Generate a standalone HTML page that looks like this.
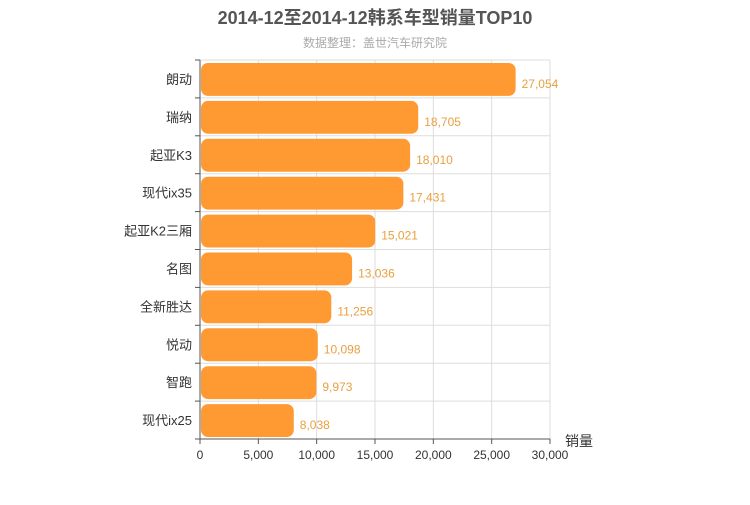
<!DOCTYPE html>
<html><head><meta charset="utf-8"><style>
body{margin:0;background:#fff;}
svg text{font-family:"Liberation Sans","Noto Sans CJK SC",sans-serif;}
</style></head><body>
<svg width="750" height="500" xmlns="http://www.w3.org/2000/svg" id="chart">
<text x="375" y="24" text-anchor="middle" font-size="18" font-weight="bold" fill="#555">2014-12至2014-12韩系车型销量TOP10</text>
<text x="375" y="47" text-anchor="middle" font-size="12" fill="#aaa">数据整理：盖世汽车研究院</text>
<g id="grid"></g><g id="bars"></g><g id="axes"></g>
<text x="565" y="446" font-size="14" fill="#333">销量</text>
</svg>
<script>
const categories=["朗动","瑞纳","起亚K3","现代ix35","起亚K2三厢","名图","全新胜达","悦动","智跑","现代ix25"];
const values=[27054,18705,18010,17431,15021,13036,11256,10098,9973,8038];
const ticks=[0,5000,10000,15000,20000,25000,30000];
const NS="http://www.w3.org/2000/svg";
const X0=200,X1=550,Y0=60,Y1=439,MAX=30000;
const xs=v=>X0+(v/MAX)*(X1-X0);
const rowH=(Y1-Y0)/categories.length;
const ys=i=>Y0+i*rowH;
function mk(t,a,p){const e=document.createElementNS(NS,t);for(const k in a)e.setAttribute(k,a[k]);p.appendChild(e);return e;}
const grid=document.getElementById('grid'),bars=document.getElementById('bars'),axes=document.getElementById('axes');
ticks.forEach(t=>{
 const l=mk('line',{x1:xs(t),x2:xs(t),y1:Y0,y2:Y1,stroke:'#ddd'},grid);
 
 
 const tk=mk('line',{x1:xs(t),x2:xs(t),y1:Y1,y2:Y1+5,stroke:'#555'},axes);
 
 
 const tx=mk('text',{x:xs(t),y:Y1+20,'text-anchor':'middle','font-size':12,fill:'#333'},axes);
 tx.textContent=t.toLocaleString('en-US');
 
 
});
for(let i=0;i<=categories.length;i++){
 const l=mk('line',{x1:X0,x2:X1,y1:ys(i),y2:ys(i),stroke:'#ddd'},grid);
 
 
 const tk=mk('line',{x1:X0-5,x2:X0,y1:ys(i),y2:ys(i),stroke:'#555'},axes);
 
 
}
categories.forEach((c,i)=>{
 const y=ys(i)+3,h=rowH-5;
 const r=mk('rect',{x:X0+1,y:y,width:xs(values[i])-X0-1,height:h,rx:7,fill:'#ff9a33'},bars);
 
 
 const v=mk('text',{x:xs(values[i])+6,y:ys(i)+rowH/2+9,'font-size':12,fill:'#e8a040'},bars);
 v.textContent=values[i].toLocaleString('en-US');
 
 
 const t=mk('text',{x:X0-8,y:ys(i)+rowH/2+5,'text-anchor':'end','font-size':13,fill:'#333'},axes);
 t.textContent=c;
 
 
});
const ya=mk('line',{x1:X0,x2:X0,y1:Y0,y2:Y1,stroke:'#555'},axes);


const xa=mk('line',{x1:X0,x2:X1,y1:Y1,y2:Y1,stroke:'#555'},axes);


</script>
</body></html>
